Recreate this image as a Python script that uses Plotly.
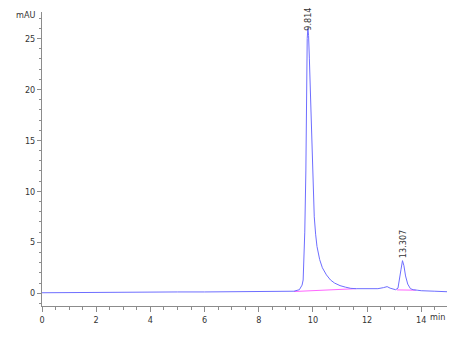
import plotly.graph_objects as go

# Chromatogram trace (time in min, signal in mAU)
time_min = [0, 1, 2, 3, 4, 5, 6, 7, 8, 9, 9.3, 9.5, 9.6, 9.64, 9.7, 9.74, 9.76, 9.79,
            9.814, 9.84, 9.87, 9.95, 10.0, 10.05, 10.1, 10.15, 10.25, 10.35, 10.5, 10.65,
            10.8, 11.0, 11.2, 11.4, 11.6, 12.0, 12.4, 12.6, 12.74, 12.85, 12.95, 13.05,
            13.14, 13.2, 13.25, 13.307, 13.36, 13.42, 13.5, 13.6, 13.7, 13.85, 14.0,
            14.5, 14.95]
signal_mau = [0.05, 0.08, 0.1, 0.1, 0.12, 0.13, 0.13, 0.14, 0.15, 0.17, 0.2, 0.35, 0.8,
              1.3, 6.0, 12.0, 20.0, 25.0, 26.0, 25.3, 23.0, 15.0, 10.0, 7.5, 5.8, 4.6,
              3.3, 2.5, 1.8, 1.3, 1.0, 0.75, 0.6, 0.48, 0.45, 0.42, 0.45, 0.55, 0.65,
              0.5, 0.4, 0.35, 0.5, 1.3, 2.3, 3.2, 2.7, 1.7, 0.9, 0.45, 0.35, 0.3, 0.25,
              0.2, 0.15]

# Integration baselines (magenta)
base1_t = [9.3, 11.6]
base1_y = [0.17, 0.45]
base2_t = [13.1, 13.8]
base2_y = [0.33, 0.3]

# Peak labels
peak_t = [9.814, 13.307]
peak_y = [26.0, 3.2]
peak_labels = ["9.814", "13.307"]
label_shift = [-4, 1]

x_ticks = [0, 2, 4, 6, 8, 10, 12, 14]
y_ticks = [0, 5, 10, 15, 20, 25]

font_fam = "Liberation Sans Narrow, Arial Narrow, DejaVu Sans Condensed, Liberation Sans, Arial, sans-serif"
axis_col = "#8c8c8c"
txt_col = "#333333"

fig = go.Figure()
fig.add_trace(go.Scatter(x=base1_t, y=base1_y, mode="lines",
                         line=dict(color="#ff66ff", width=1), hoverinfo="skip"))
fig.add_trace(go.Scatter(x=base2_t, y=base2_y, mode="lines",
                         line=dict(color="#ff66ff", width=1), hoverinfo="skip"))
fig.add_trace(go.Scatter(x=time_min, y=signal_mau, mode="lines",
                         line=dict(color="#6e6eff", width=1)))

for t, y, lab, sh in zip(peak_t, peak_y, peak_labels, label_shift):
    fig.add_annotation(x=t, y=y, text=lab, showarrow=False, textangle=-90,
                       xanchor="center", yanchor="bottom", yshift=sh,
                       font=dict(family=font_fam, size=9, color=txt_col))

fig.add_annotation(xref="paper", yref="paper", x=-0.012, y=1.0, text="mAU",
                   showarrow=False, xanchor="right", yanchor="middle", yshift=-3,
                   font=dict(family=font_fam, size=9, color=txt_col))
fig.add_annotation(xref="paper", yref="paper", x=1.0, y=0, text="min",
                   showarrow=False, xanchor="right", yanchor="top", yshift=-4,
                   font=dict(family=font_fam, size=9, color=txt_col))

fig.update_layout(
    width=466, height=342,
    margin=dict(l=42, r=19, t=12, b=36),
    paper_bgcolor="white", plot_bgcolor="white",
    showlegend=False,
    font=dict(family=font_fam, size=9, color=txt_col),
    xaxis=dict(range=[0, 14.95], tickvals=x_ticks, showgrid=False, zeroline=False,
               showline=True, linecolor=axis_col, linewidth=1,
               ticks="outside", ticklen=5, tickcolor=axis_col,
               minor=dict(dtick=0.5, ticks="outside", ticklen=3, tickcolor=axis_col),
               tickfont=dict(size=9)),
    yaxis=dict(range=[-1.25, 27.6], tickvals=y_ticks, showgrid=False, zeroline=False,
               showline=True, linecolor=axis_col, linewidth=1,
               ticks="outside", ticklen=4, tickcolor=axis_col,
               minor=dict(dtick=1, tick0=0, ticks="outside", ticklen=2, tickcolor=axis_col),
               tickfont=dict(size=9)),
)

fig.write_html("out.html")
